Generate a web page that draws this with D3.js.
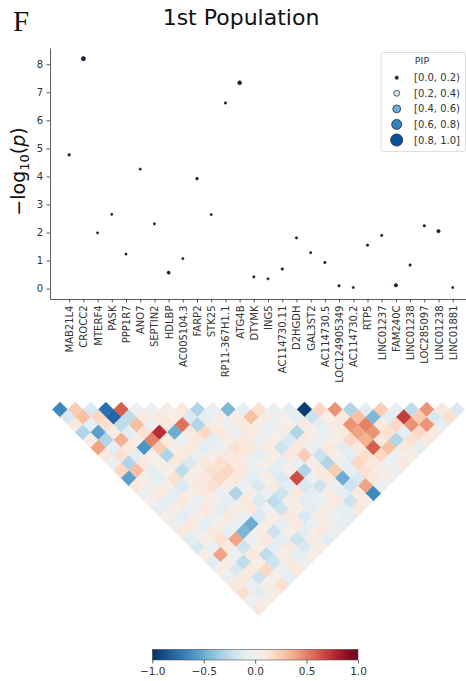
<!DOCTYPE html>
<html>
<head>
<meta charset="utf-8">
<script src="https://cdn.jsdelivr.net/npm/d3@7"></script>
<style>
  body { margin: 0; background: #fff; }
  svg { display: block; }
</style>
</head>
<body>
<svg id="fig" width="466" height="681"></svg>
<script>
// ---- data ----
const genes = ["MAB21L4", "CROCC2", "MTERF4", "PASK", "PPP1R7", "ANO7", "SEPTIN2", "HDLBP",
  "AC005104.3", "FARP2", "STK25", "RP11-367H1.1", "ATG4B", "DTYMK", "ING5", "AC114730.11",
  "D2HGDH", "GAL3ST2", "AC114730.5", "LOC124905349", "AC114730.2", "RTP5", "LINC01237",
  "FAM240C", "LINC01238", "LOC285097", "LINC01238", "LINC01881"];

const negLog10P = [4.77, 8.2, 1.99, 2.65, 1.23, 4.26, 2.31, 0.57, 1.07, 3.92, 2.64, 6.62, 7.34,
  0.42, 0.35, 0.70, 1.81, 1.28, 0.93, 0.10, 0.04, 1.55, 1.90, 0.12, 0.84, 2.24, 2.05, 0.04];

const pip = [0.05, 0.16, 0.03, 0.03, 0.03, 0.03, 0.03, 0.09, 0.03, 0.06, 0.03, 0.04, 0.14,
  0.04, 0.03, 0.04, 0.04, 0.03, 0.04, 0.04, 0.03, 0.04, 0.04, 0.10, 0.04, 0.04, 0.10, 0.03];

const yTickValues = [0, 1, 2, 3, 4, 5, 6, 7, 8];
const pipBinLabels = ["[0.0, 0.2)", "[0.2, 0.4)", "[0.4, 0.6)", "[0.6, 0.8)", "[0.8, 1.0]"];
const pipBinMids = [0.1, 0.3, 0.5, 0.7, 0.9];
const corrTicks = [-1, -0.5, 0, 0.5, 1];

// pairwise correlation between genes, one row per offset k: row k holds r(i, i+k+1)
const ldRows = [
  [-0.65, 0.25, -0.15, -0.75, 0.6, -0.05, -0.05, 0.05, 0.1, -0.3, -0.05, -0.45, -0.1, 0.15, -0.05, -0.1, -0.95, 0.2, 0.45, -0.3, -0.1, 0.25, -0.05, -0.25, 0.45, 0.1, -0.15],
  [-0.15, 0.3, 0.2, -0.8, -0.25, 0.1, 0.1, 0.05, -0.15, -0.1, 0.05, 0.05, 0.3, 0.05, 0.0, -0.1, -0.2, 0.05, 0.1, 0.3, -0.45, -0.1, 0.7, 0.25, -0.15, 0.15],
  [0.1, -0.1, 0.15, -0.25, 0.3, -0.05, 0.1, 0.55, -0.3, 0.05, -0.05, 0.1, 0.05, -0.05, 0.05, 0.1, -0.1, 0.1, 0.45, 0.5, 0.1, 0.2, 0.45, 0.45, -0.1],
  [-0.3, -0.55, 0.05, -0.1, 0.15, 0.75, -0.5, 0.1, 0.2, 0.1, -0.05, 0.1, -0.05, 0.05, -0.3, 0.05, -0.05, 0.1, 0.4, 0.45, 0.15, -0.1, 0.2, 0.1],
  [0.05, -0.3, 0.35, 0.05, 0.5, 0.1, -0.05, 0.1, -0.1, 0.05, 0.1, -0.05, 0.05, -0.15, 0.1, -0.05, 0.05, 0.2, 0.35, 0.1, -0.3, 0.15, 0.1],
  [0.4, -0.1, 0.1, -0.6, 0.25, 0.05, 0.1, -0.1, -0.05, 0.15, 0.1, 0.05, -0.2, 0.1, -0.05, 0.1, -0.1, 0.1, 0.6, 0.3, 0.1, -0.1],
  [0.1, 0.15, -0.1, 0.05, -0.3, 0.1, -0.05, 0.05, 0.1, 0.1, -0.1, 0.05, 0.1, 0.25, -0.2, 0.05, -0.1, 0.15, 0.2, -0.05, 0.05],
  [-0.05, -0.3, 0.1, 0.05, 0.1, -0.15, 0.1, 0.15, 0.1, -0.05, 0.05, -0.1, -0.05, 0.05, -0.3, -0.05, 0.2, 0.1, -0.05, 0.1],
  [0.2, 0.3, -0.1, 0.05, -0.25, 0.05, 0.15, 0.2, 0.1, -0.05, -0.1, 0.05, -0.3, 0.1, 0.25, -0.1, 0.15, 0.05, -0.05],
  [-0.55, 0.05, -0.1, 0.15, 0.05, 0.1, 0.2, 0.1, -0.1, 0.05, -0.15, 0.65, -0.05, 0.1, -0.5, -0.15, 0.1, 0.05],
  [0.1, -0.05, 0.05, -0.15, 0.1, 0.15, 0.05, -0.05, -0.15, 0.1, -0.1, -0.15, -0.2, -0.05, -0.2, 0.4, -0.05],
  [-0.05, 0.1, -0.1, 0.05, 0.1, -0.05, -0.3, 0.05, -0.05, -0.2, 0.1, -0.1, 0.05, -0.1, 0.1, -0.65],
  [0.05, -0.1, 0.1, -0.05, 0.05, -0.1, 0.1, -0.15, -0.25, 0.05, -0.1, -0.05, 0.1, -0.2, 0.05],
  [-0.1, 0.05, -0.05, 0.1, -0.1, 0.05, 0.1, -0.05, -0.2, 0.05, -0.1, 0.05, -0.1, 0.1],
  [0.05, -0.1, 0.05, -0.05, 0.1, -0.05, -0.15, 0.05, 0.1, -0.15, 0.05, -0.05, -0.1],
  [-0.05, 0.1, -0.1, 0.05, -0.05, -0.5, 0.05, -0.1, 0.1, -0.05, 0.05, -0.1],
  [0.1, -0.05, 0.1, -0.1, -0.45, 0.05, -0.2, 0.05, -0.1, 0.1, -0.05],
  [-0.1, 0.05, 0.15, 0.4, -0.05, 0.1, -0.1, -0.2, 0.05, -0.1],
  [-0.15, -0.05, 0.1, -0.2, 0.05, -0.1, 0.1, -0.15, 0.05],
  [0.05, 0.4, -0.05, 0.1, -0.25, 0.05, -0.1, 0.05],
  [-0.1, 0.05, -0.25, 0.05, -0.2, 0.1, -0.05],
  [0.05, -0.15, 0.1, 0.2, -0.05, 0.1],
  [-0.05, 0.1, -0.2, 0.05, -0.1],
  [0.1, -0.05, 0.05, 0.15],
  [0.15, -0.1, 0.05],
  [-0.05, 0.05],
  [0.1]
];

// ---- drawing ----
const svg = d3.select("#fig");
const sans = "'DejaVu Sans', Verdana, sans-serif";
const ink = "#333";

svg.append("text")
  .attr("x", 13).attr("y", 31)
  .attr("font-family", "'Liberation Serif', 'Times New Roman', serif")
  .attr("font-size", 29).attr("fill", "#111")
  .text("F");

svg.append("text")
  .attr("x", 241).attr("y", 25)
  .attr("text-anchor", "middle")
  .attr("font-family", sans).attr("font-size", 22).attr("fill", "#111")
  .text("1st Population");

// Manhattan-style scatter of lead signals per gene
const x = d3.scaleLinear().domain([-1.35, 28.35]).range([50, 471.9]);
const y = d3.scaleLinear().domain([-0.37, 8.58]).range([299, 48]);

function styleAxis(g) {
  g.select(".domain").attr("stroke", ink).attr("stroke-width", 0.8);
  g.selectAll(".tick line").attr("stroke", ink).attr("stroke-width", 0.8);
  g.selectAll(".tick text").attr("fill", ink).attr("font-family", sans).attr("font-size", 10);
}

const yAxis = svg.append("g")
  .attr("transform", `translate(${x.range()[0]},0)`)
  .call(d3.axisLeft(y).tickValues(yTickValues).tickSize(3.5).tickSizeOuter(0).tickPadding(3.5));
styleAxis(yAxis);

const xAxis = svg.append("g")
  .attr("transform", `translate(0,${y.range()[0]})`)
  .call(d3.axisBottom(x).tickValues(d3.range(genes.length)).tickFormat(i => genes[i])
    .tickSize(3.5).tickSizeOuter(0));
styleAxis(xAxis);
xAxis.selectAll(".tick text")
  .attr("transform", "rotate(-90)")
  .attr("text-anchor", "end")
  .attr("x", -6.5).attr("y", 0).attr("dy", "0.35em");

// y axis title: -log10(p)
const yTitle = svg.append("text")
  .attr("transform", `translate(25,171.5) rotate(-90)`)
  .attr("text-anchor", "middle")
  .attr("font-family", sans).attr("font-size", 19).attr("fill", "#111");
yTitle.append("tspan").text("\u2212log");
yTitle.append("tspan").attr("font-size", 13).attr("dy", 4).text("10");
yTitle.append("tspan").attr("dy", -4).text("(");
yTitle.append("tspan").attr("font-style", "italic").text("p");
yTitle.append("tspan").text(")");

const rScale = d3.scaleLinear().domain([0, 0.2, 1]).range([0.9, 2.4, 6.6]).clamp(true);
const pipColor = d3.scaleThreshold().domain([0.2, 0.4, 0.6, 0.8])
  .range(["#16213a", "#dbe9f6", "#6baed6", "#3182bd", "#08519c"]);

svg.append("g").selectAll("circle")
  .data(negLog10P.map((v, i) => ({ i, v, p: pip[i] })))
  .join("circle")
  .attr("cx", d => x(d.i))
  .attr("cy", d => y(d.v))
  .attr("r", d => rScale(d.p))
  .attr("fill", d => pipColor(d.p))
  .attr("stroke", "#0e1a30").attr("stroke-width", 0.6);

// PIP legend
const legend = svg.append("g");
legend.append("rect")
  .attr("x", 381).attr("y", 52.5).attr("width", 84.5).attr("height", 99)
  .attr("rx", 2.5).attr("fill", "#fff").attr("stroke", "#d4d4d4").attr("stroke-width", 0.8);
legend.append("text")
  .attr("x", 422).attr("y", 63.5).attr("text-anchor", "middle")
  .attr("font-family", sans).attr("font-size", 9.5).attr("fill", ink).text("PIP");
const ly = d3.scalePoint().domain(pipBinLabels).range([77.7, 140]);
const rows = legend.selectAll("g.row").data(pipBinLabels).join("g").attr("class", "row");
rows.append("circle")
  .attr("cx", 396.7).attr("cy", d => ly(d))
  .attr("r", (d, i) => rScale(pipBinMids[i]))
  .attr("fill", (d, i) => pipColor(pipBinMids[i]))
  .attr("stroke", "#1a1a1a").attr("stroke-width", 0.7);
rows.append("text")
  .attr("x", 414).attr("y", d => ly(d) + 3.6)
  .attr("font-family", sans).attr("font-size", 10).attr("fill", ink)
  .text(d => d);

// correlation triangle: cell (i, j) sits at diagonal slot i + j - 1, depth j - i - 1
const hx = d3.scaleLinear().domain([-1, 53]).range([52.4, 464.9]);
const hy = d3.scaleLinear().domain([-1, 27]).range([401.9, 615.8]);
const ldColor = d3.scaleDiverging(d3.interpolateRdBu).domain([1, 0, -1]);

const cells = ldRows.flatMap((row, k) => row.map((v, i) => ({ i, j: i + k + 1, k, v })));
svg.append("g").selectAll("polygon")
  .data(cells)
  .join("polygon")
  .attr("points", d => {
    const s = d.i + d.j - 1;
    return [[hx(s - 1), hy(d.k)], [hx(s), hy(d.k - 1)], [hx(s + 1), hy(d.k)], [hx(s), hy(d.k + 1)]]
      .map(p => p.join(",")).join(" ");
  })
  .attr("fill", d => ldColor(d.v))
  .attr("stroke", d => ldColor(d.v))
  .attr("stroke-width", 0.4);

// colour bar
const cb = d3.scaleLinear().domain([-1, 1]).range([152.3, 358]);
const grad = svg.append("defs").append("linearGradient").attr("id", "rdbu")
  .attr("x1", "0%").attr("x2", "100%").attr("y1", "0%").attr("y2", "0%");
grad.selectAll("stop").data(d3.range(0, 1.0001, 0.05))
  .join("stop")
  .attr("offset", t => `${t * 100}%`)
  .attr("stop-color", t => ldColor(-1 + 2 * t));
svg.append("rect")
  .attr("x", cb.range()[0]).attr("y", 649.3)
  .attr("width", cb.range()[1] - cb.range()[0]).attr("height", 10.7)
  .attr("fill", "url(#rdbu)").attr("stroke", "#555").attr("stroke-width", 0.6);
const cbAxis = svg.append("g")
  .attr("transform", "translate(0,660)")
  .call(d3.axisBottom(cb).tickValues(corrTicks).tickFormat(d3.format(".1f"))
    .tickSize(3.5).tickSizeOuter(0).tickPadding(4));
cbAxis.select(".domain").remove();
cbAxis.selectAll(".tick line").attr("stroke", ink).attr("stroke-width", 0.8);
cbAxis.selectAll(".tick text").attr("fill", ink).attr("font-family", sans).attr("font-size", 10.5);
</script>
</body>
</html>
